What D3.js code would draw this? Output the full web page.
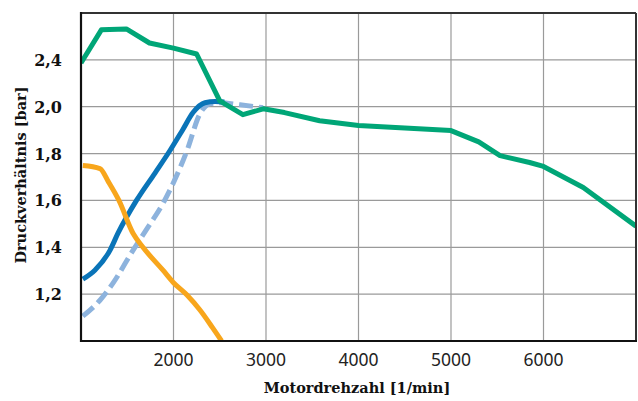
<!DOCTYPE html>
<html lang="de">
<head>
  <meta charset="UTF-8">
  <title>Druckverhältnis</title>
  <script src="https://d3js.org/d3.v7.min.js"></script>
  <style>
    body { margin: 0; background: #fff; }
    svg { display: block; }
    .ylab { font-family: "DejaVu Serif", serif; font-weight: bold; font-size: 16px; fill: #111; }
    .xlab { font-family: "Noto Sans", sans-serif; font-size: 17.5px; fill: #222; }
    .title { font-family: "DejaVu Serif", serif; font-weight: bold; font-size: 14.5px; fill: #111; }
  </style>
</head>
<body>
  <div id="chart"></div>
  <script>
    // values
    const greenRpm = [1000, 1220, 1490, 1740, 2000, 2250, 2500, 2750, 2970, 3200, 3580, 4000, 5000, 5300, 5530, 5850, 6000, 6430, 7000];
    const greenVal = [2.187, 2.328, 2.332, 2.272, 2.25, 2.225, 2.025, 1.966, 1.991, 1.975, 1.94, 1.92, 1.898, 1.85, 1.791, 1.762, 1.745, 1.655, 1.49];

    const blueRpm = [1020, 1150, 1313, 1400, 1600, 1800, 1962, 2100, 2211, 2340, 2450, 2550];
    const blueVal = [1.264, 1.302, 1.387, 1.46, 1.6, 1.717, 1.813, 1.902, 1.975, 2.017, 2.022, 2.02];

    const dashRpm = [1020, 1205, 1346, 1562, 1714, 1886, 2146, 2286, 2395, 2503, 2719, 2968];
    const dashVal = [1.106, 1.174, 1.247, 1.387, 1.48, 1.587, 1.813, 1.97, 2.013, 2.017, 2.008, 1.996];

    const orangeRpm = [1020, 1205, 1300, 1410, 1562, 1670, 1886, 1995, 2146, 2286, 2420, 2520];
    const orangeVal = [1.749, 1.736, 1.677, 1.6, 1.46, 1.4, 1.302, 1.251, 1.196, 1.132, 1.058, 1.0];

    const xTicks = [2000, 3000, 4000, 5000, 6000];
    const yTicks = [1.2, 1.4, 1.6, 1.8, 2.0, 2.2];
    const yTickLabels = ["1,2", "1,4", "1,6", "1,8", "2,0", "2,4"];

    const W = 638, H = 401;
    const m = { left: 81, top: 13, right: 2, bottom: 60 };
    const iw = W - m.left - m.right, ih = H - m.top - m.bottom;

    const svg = d3.select('#chart').append('svg')
      .attr('width', W).attr('height', H);
    const g = svg.append('g').attr('transform', `translate(${m.left},${m.top})`);

    const x = d3.scaleLinear().domain([1000, 7000]).range([0, iw]);
    const y = d3.scaleLinear().domain([1.0, 2.4]).range([ih, 0]);

    // grid
    g.append('g').selectAll('line').data(xTicks).join('line')
      .attr('x1', d => x(d)).attr('x2', d => x(d))
      .attr('y1', 0).attr('y2', ih)
      .attr('stroke', '#9a9a9a').attr('stroke-width', 1.2);
    g.append('g').selectAll('line').data(yTicks).join('line')
      .attr('x1', 0).attr('x2', iw)
      .attr('y1', d => y(d)).attr('y2', d => y(d))
      .attr('stroke', '#9a9a9a').attr('stroke-width', 1.2);

    const clip = svg.append('clipPath').attr('id', 'clip')
      .append('rect').attr('width', iw).attr('height', ih);

    const series = [
      { rpm: dashRpm, val: dashVal, color: '#8db3dd', dash: '14,6', curve: d3.curveMonotoneX },
      { rpm: blueRpm, val: blueVal, color: '#0a74b8', dash: null, curve: d3.curveMonotoneX },
      { rpm: orangeRpm, val: orangeVal, color: '#f8a61c', dash: null, curve: d3.curveMonotoneX },
      { rpm: greenRpm, val: greenVal, color: '#00a677', dash: null, curve: d3.curveLinear }
    ];

    const lines = g.append('g').attr('clip-path', 'url(#clip)');
    series.forEach(s => {
      const line = d3.line().x(i => x(s.rpm[i])).y(i => y(s.val[i])).curve(s.curve);
      lines.append('path')
        .attr('d', line(d3.range(s.rpm.length)))
        .attr('fill', 'none')
        .attr('stroke', s.color)
        .attr('stroke-width', 5)
        .attr('stroke-linejoin', 'round')
        .attr('stroke-dasharray', s.dash);
    });

    // frame
    g.append('line').attr('x1', 0).attr('x2', iw).attr('y1', 0).attr('y2', 0)
      .attr('stroke', '#333').attr('stroke-width', 2);
    g.append('line').attr('x1', iw).attr('x2', iw).attr('y1', 0).attr('y2', ih)
      .attr('stroke', '#333').attr('stroke-width', 2);
    g.append('line').attr('x1', 0).attr('x2', 0).attr('y1', -1).attr('y2', ih + 1)
      .attr('stroke', '#111').attr('stroke-width', 2.2);
    g.append('line').attr('x1', -1).attr('x2', iw + 1).attr('y1', ih).attr('y2', ih)
      .attr('stroke', '#111').attr('stroke-width', 2.2);

    // tick labels
    g.append('g').selectAll('text').data(xTicks).join('text')
      .attr('class', 'xlab')
      .attr('x', d => x(d)).attr('y', ih + 25)
      .attr('text-anchor', 'middle')
      .text(d => d);
    g.append('g').selectAll('text').data(yTicks).join('text')
      .attr('class', 'ylab')
      .attr('x', -19).attr('y', d => y(d) + 6)
      .attr('text-anchor', 'end')
      .text((d, i) => yTickLabels[i]);

    svg.append('text').attr('class', 'title')
      .attr('x', 357).attr('y', 393)
      .attr('text-anchor', 'middle')
      .text('Motordrehzahl [1/min]');
    svg.append('text').attr('class', 'title')
      .attr('transform', 'translate(26,175) rotate(-90)')
      .attr('text-anchor', 'middle')
      .text('Druckverhältnis [bar]');
  </script>
</body>
</html>
